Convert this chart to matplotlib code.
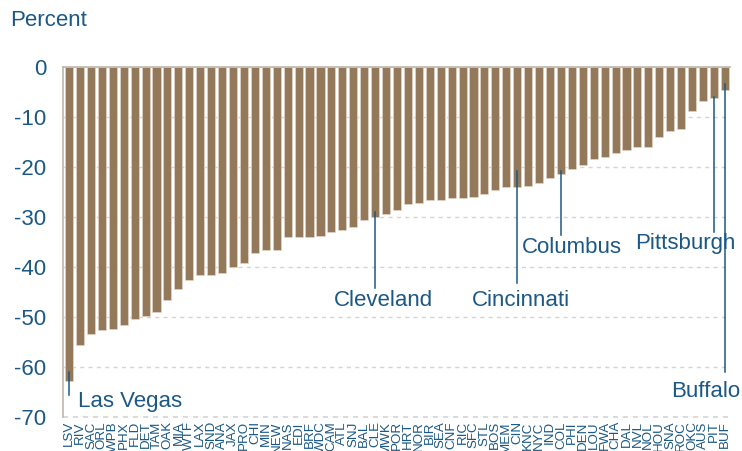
import matplotlib
matplotlib.use("Agg")
import matplotlib.pyplot as plt
import numpy as np

plt.rcParams['font.family'] = ['Liberation Sans', 'DejaVu Sans']

cities = ['LSV', 'RIV', 'SAC', 'ORL', 'WPB', 'PHX', 'FLD', 'DET', 'TAM', 'OAK',
          'MIA', 'WTF', 'LAX', 'SND', 'ANA', 'JAX', 'PRO', 'CHI', 'MIN', 'NEW',
          'NAS', 'EDI', 'BRF', 'WDC', 'CAM', 'ATL', 'SNJ', 'BAL', 'CLE', 'MWK',
          'POR', 'HRT', 'NOR', 'BIR', 'SEA', 'CNF', 'RIC', 'SFC', 'STL', 'BOS',
          'MEM', 'CIN', 'KNC', 'NYC', 'IND', 'COL', 'PHI', 'DEN', 'LOU', 'FWA',
          'CHA', 'DAL', 'NVL', 'NOL', 'HOU', 'SNA', 'ROC', 'OKC', 'AUS', 'PIT',
          'BUF']
change = [-62.9, -55.7, -53.3, -52.5, -52.3, -51.5, -50.4, -49.8, -48.9, -46.5,
          -44.3, -42.5, -41.5, -41.5, -41.1, -39.9, -39.1, -37.1, -36.5, -36.5,
          -34.0, -33.9, -33.9, -33.7, -32.9, -32.5, -31.9, -30.6, -29.9, -29.3,
          -28.6, -27.3, -27.1, -26.5, -26.5, -26.1, -26.1, -25.9, -25.4, -24.5,
          -24.0, -24.0, -23.7, -23.1, -22.1, -21.3, -20.3, -19.6, -18.3, -17.9,
          -17.1, -16.5, -16.0, -16.0, -13.9, -12.7, -12.3, -8.8, -6.8, -6.1,
          -4.5]

# label, bar code, line top, line bottom, text x offset, text y, alignment
callouts = [
    ('Las Vegas', 'LSV', -61.0, -65.6, 0.8, -67.0, 'left'),
    ('Cleveland', 'CLE', -28.9, -44.1, 0.8, -46.6, 'center'),
    ('Cincinnati', 'CIN', -20.8, -43.1, 0.3, -46.6, 'center'),
    ('Columbus', 'COL', -20.8, -33.5, 1.0, -36.0, 'center'),
    ('Pittsburgh', 'PIT', -5.9, -32.9, -2.6, -35.2, 'center'),
    ('Buffalo', 'BUF', -3.3, -61.1, -1.8, -65.0, 'center'),
]

blue = '#1b5885'
bar_color = '#94785a'
fs = 16

fig = plt.figure(figsize=(7.42, 4.51), dpi=100)
ax = fig.add_axes([0.085, 0.0754, 0.899, 0.776])

x = np.arange(len(cities))
ax.bar(x, change, width=0.74, color=bar_color, edgecolor='#e8ddd0', linewidth=0.4, zorder=2)

ax.set_xlim(-0.55, 60.48)
ax.set_ylim(-70, 0)
ax.set_yticks(np.arange(-70, 1, 10))
ax.set_yticklabels([str(v) for v in range(-70, 1, 10)])
ax.yaxis.grid(True, linestyle=(0, (3, 3)), color='#d4d4d4', linewidth=1, zorder=0)
ax.axhline(-70, linestyle=(0, (3, 3)), color='#d4d4d4', linewidth=1.2, zorder=0, clip_on=False)
ax.tick_params(axis='y', length=0, pad=12, labelsize=fs, labelcolor=blue)
ax.set_xticks(x)
ax.set_xticklabels(cities, rotation=90, fontsize=9.6, color=blue, va='top')
ax.tick_params(axis='x', length=0, pad=3)

for s in ['right', 'bottom']:
    ax.spines[s].set_visible(False)
for s in ['left', 'top']:
    ax.spines[s].set_color('#bdb8ad')
    ax.spines[s].set_linewidth(1.2)

for name, code, y0, y1, dx, ty, ha in callouts:
    i = cities.index(code)
    ax.plot([i, i], [y0, y1], color=blue, linewidth=1.1, zorder=3, clip_on=False)
    ax.text(i + dx, ty, name, ha=ha, va='center', fontsize=fs, color=blue, zorder=4)

fig.text(0.013, 0.955, 'Percent', fontsize=fs, color=blue, ha='left', va='center')

fig.savefig('out.png', dpi=100)
